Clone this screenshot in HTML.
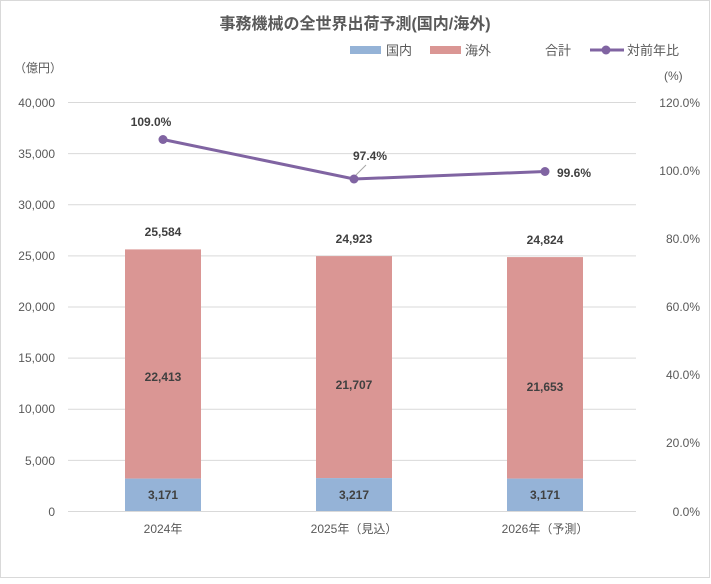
<!DOCTYPE html>
<html><head><meta charset="utf-8"><style>
body{margin:0;background:#fff}
svg text{font-family:"Liberation Sans","Noto Sans CJK JP",sans-serif;fill:#595959}
</style></head><body>
<svg width="711" height="579" xmlns="http://www.w3.org/2000/svg">
<rect x="0.5" y="0.5" width="709" height="577" fill="#fff" stroke="#d9d9d9"/>
<text x="355" y="29" font-size="16" font-weight="bold" text-anchor="middle">事務機械の全世界出荷予測(国内/海外)</text>
<rect x="350" y="46" width="31" height="8" fill="#95b3d7"/>
<text x="386" y="55" font-size="13">国内</text>
<rect x="430" y="46" width="31" height="8" fill="#da9694"/>
<text x="465" y="55" font-size="13">海外</text>
<text x="545" y="55" font-size="13">合計</text>
<line x1="590" y1="50" x2="624" y2="50" stroke="#8064a2" stroke-width="3"/>
<circle cx="606" cy="50" r="4.5" fill="#8064a2"/>
<text x="627" y="55" font-size="13">対前年比</text>
<text x="14" y="72" font-size="12">（億円）</text>
<text x="664" y="80" font-size="12">(%)</text>
<g stroke="#d9d9d9" stroke-width="1">
<line x1="68" y1="102.5" x2="636" y2="102.5"/><line x1="68" y1="153.6" x2="636" y2="153.6"/>
<line x1="68" y1="204.8" x2="636" y2="204.8"/><line x1="68" y1="255.9" x2="636" y2="255.9"/>
<line x1="68" y1="307" x2="636" y2="307"/><line x1="68" y1="358.1" x2="636" y2="358.1"/>
<line x1="68" y1="409.3" x2="636" y2="409.3"/><line x1="68" y1="460.4" x2="636" y2="460.4"/>
<line x1="68" y1="511.5" x2="636" y2="511.5"/>
</g>
<g font-size="12" text-anchor="end">
<text x="55" y="107">40,000</text><text x="55" y="158">35,000</text><text x="55" y="209">30,000</text>
<text x="55" y="260">25,000</text><text x="55" y="311">20,000</text><text x="55" y="362">15,000</text>
<text x="55" y="413">10,000</text><text x="55" y="465">5,000</text><text x="55" y="516">0</text>
</g>
<g font-size="12" text-anchor="end">
<text x="700" y="107">120.0%</text><text x="700" y="175">100.0%</text><text x="700" y="243">80.0%</text>
<text x="700" y="311">60.0%</text><text x="700" y="379">40.0%</text><text x="700" y="447">20.0%</text>
<text x="700" y="516">0.0%</text>
</g>
<rect x="125" y="249.4" width="76" height="229.2" fill="#da9694"/>
<rect x="125" y="478.6" width="76" height="32.4" fill="#95b3d7"/>
<rect x="316" y="256.1" width="76" height="222" fill="#da9694"/>
<rect x="316" y="478.1" width="76" height="32.9" fill="#95b3d7"/>
<rect x="507" y="257.1" width="76" height="221.5" fill="#da9694"/>
<rect x="507" y="478.6" width="76" height="32.4" fill="#95b3d7"/>
<g font-size="12" font-weight="bold" text-anchor="middle" style="fill:#404040">
<text x="163" y="236" style="fill:#404040">25,584</text><text x="354" y="243" style="fill:#404040">24,923</text><text x="545" y="244" style="fill:#404040">24,824</text>
<text x="163" y="381" style="fill:#404040">22,413</text><text x="354" y="389" style="fill:#404040">21,707</text><text x="545" y="391" style="fill:#404040">21,653</text>
<text x="163" y="499" style="fill:#404040">3,171</text><text x="354" y="499" style="fill:#404040">3,217</text><text x="545" y="499" style="fill:#404040">3,171</text>
<text x="151" y="126" style="fill:#404040">109.0%</text><text x="370" y="160" style="fill:#404040">97.4%</text><text x="574" y="177" style="fill:#404040">99.6%</text>
</g>
<line x1="354" y1="177" x2="366" y2="165" stroke="#a6a6a6"/>
<polyline points="163,139.5 354,179 545,171.5" fill="none" stroke="#8064a2" stroke-width="3"/>
<circle cx="163" cy="139.5" r="4.5" fill="#8064a2"/>
<circle cx="354" cy="179" r="4.5" fill="#8064a2"/>
<circle cx="545" cy="171.5" r="4.5" fill="#8064a2"/>
<g font-size="12" text-anchor="middle">
<text x="163" y="533">2024年</text><text x="354" y="533">2025年（見込）</text><text x="545" y="533">2026年（予測）</text>
</g>
</svg>
</body></html>
